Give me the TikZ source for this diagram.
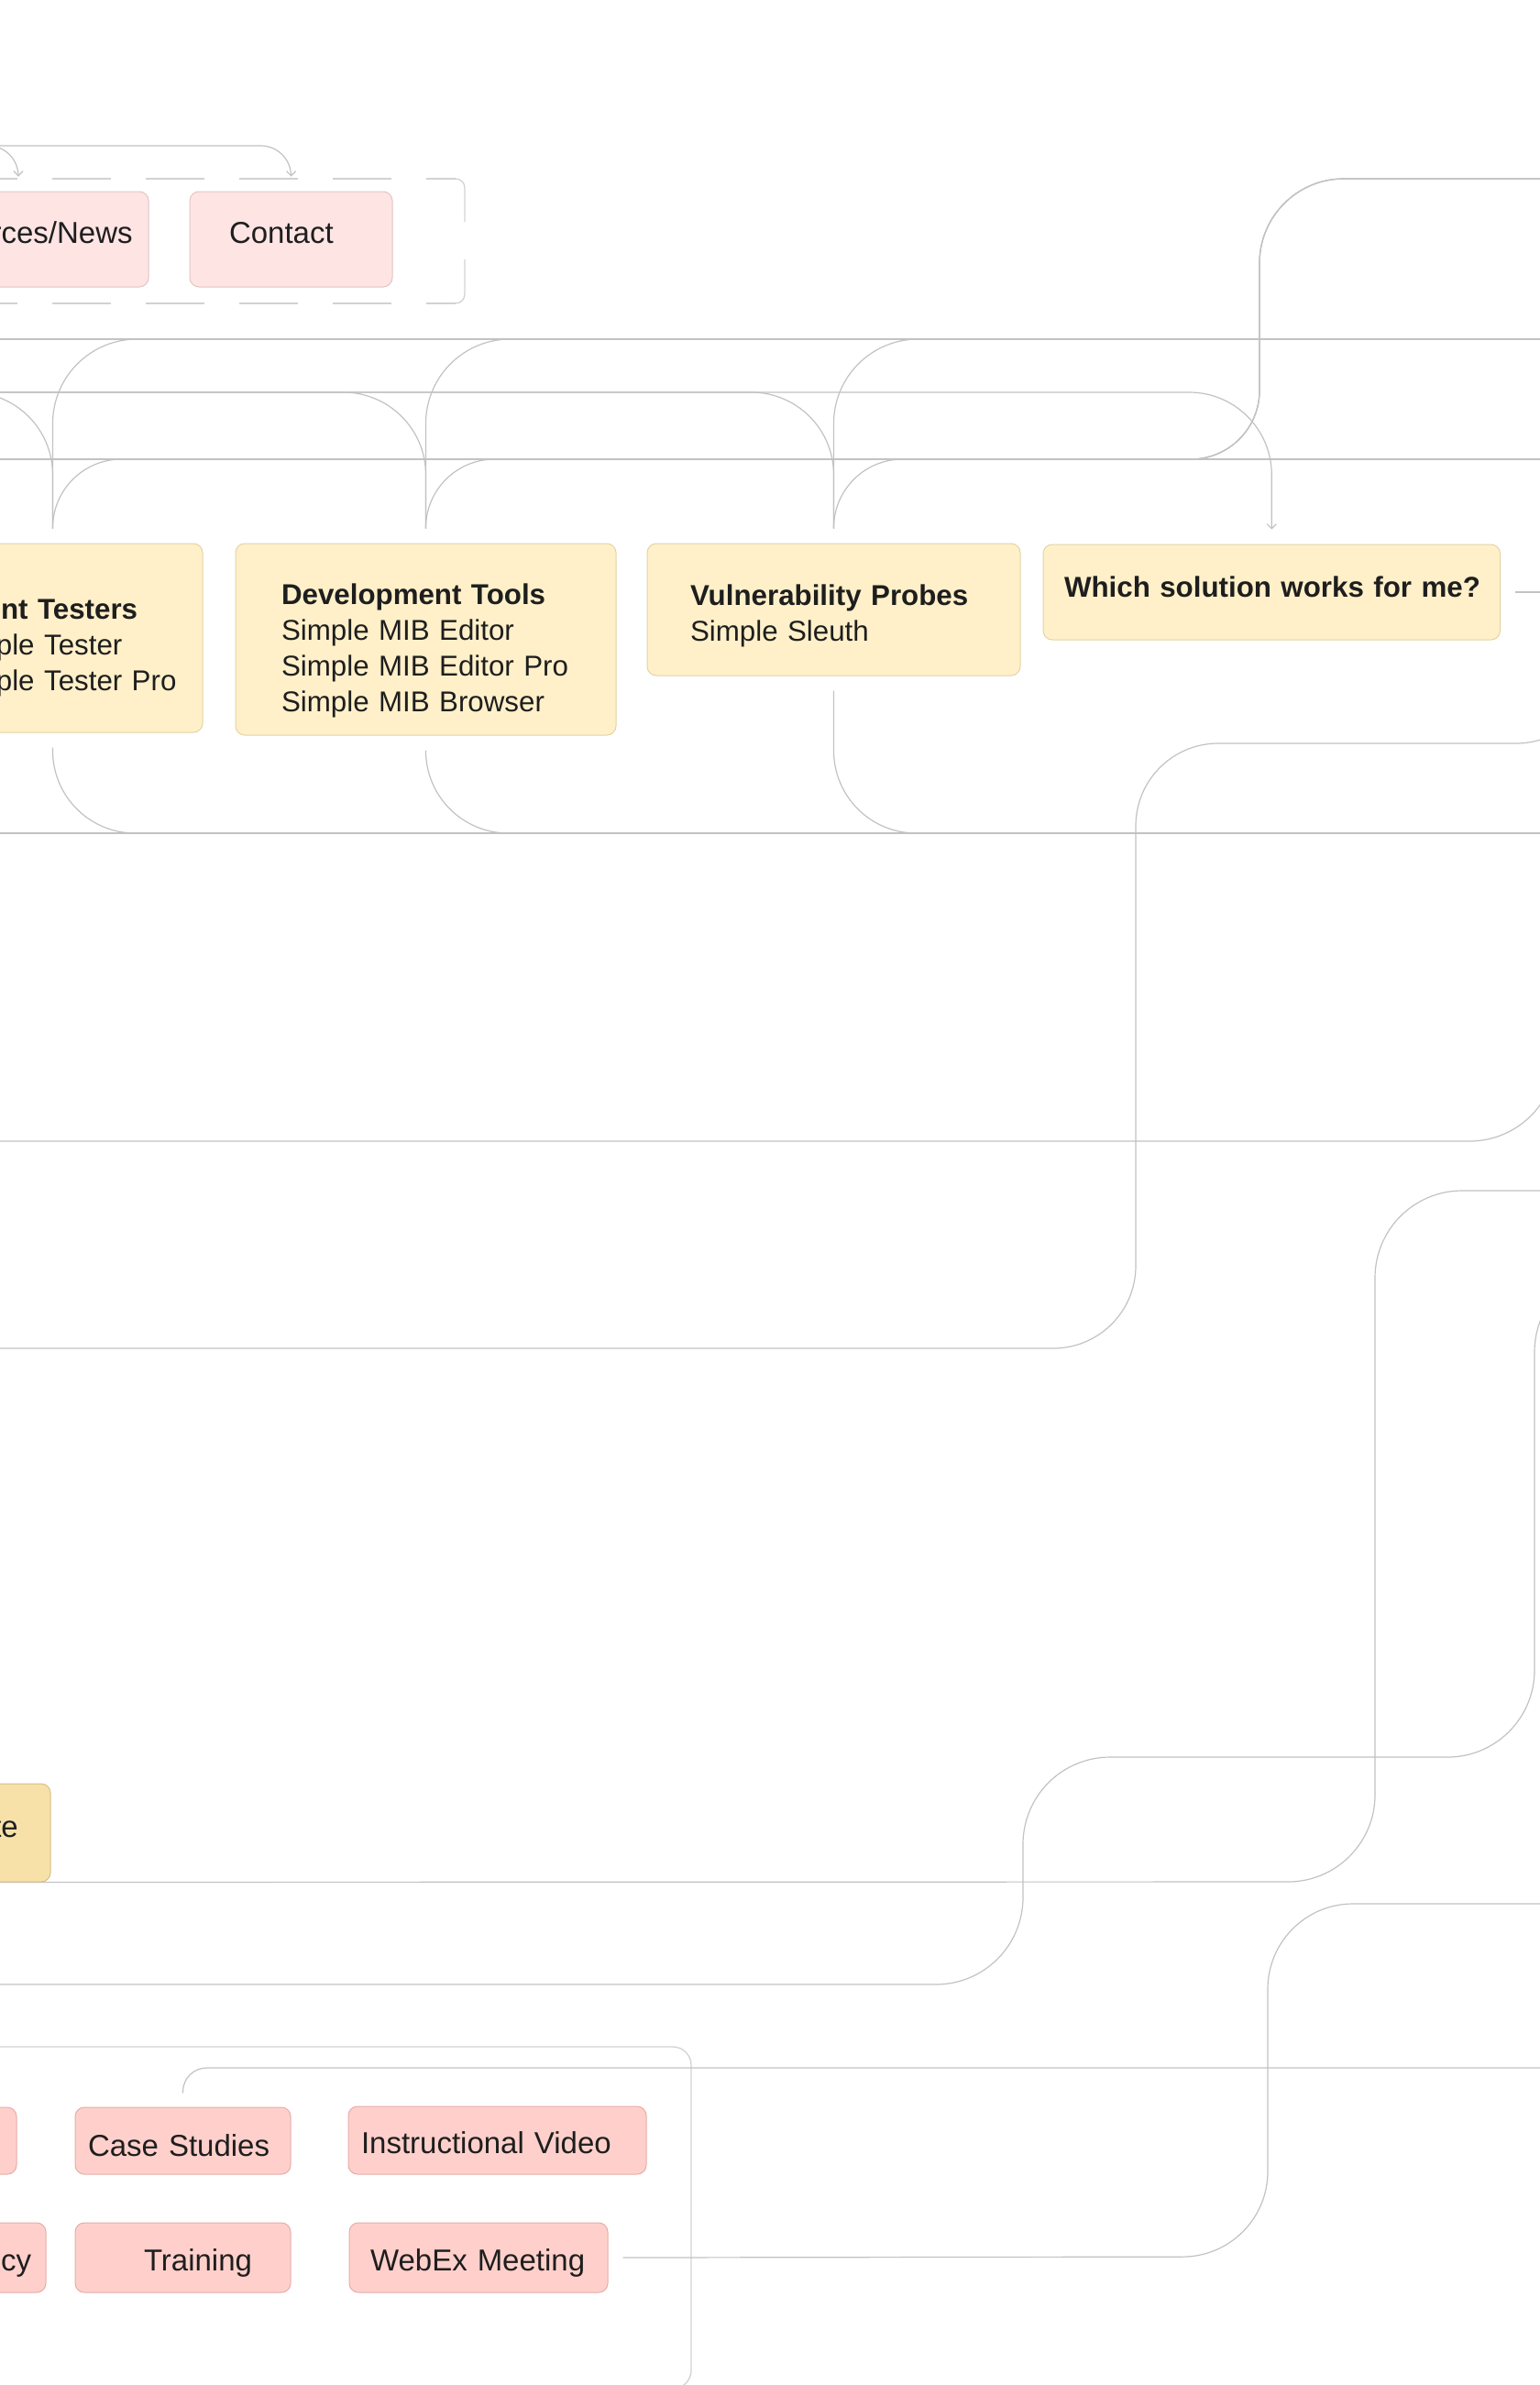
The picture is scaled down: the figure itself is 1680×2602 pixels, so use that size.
\documentclass[tikz,border=0pt]{standalone}
\usepackage{fontspec}
\setmainfont{Liberation Sans}
\usetikzlibrary{arrows.meta}
\pgfdeclarelayer{background}
\pgfsetlayers{background,main}

\definecolor{cream}{HTML}{FFF0C9}
\definecolor{creamline}{HTML}{E3D3A3}
\definecolor{sand}{HTML}{F8E1A9}
\definecolor{sandline}{HTML}{D7BF86}
\definecolor{blush}{HTML}{FFE4E4}
\definecolor{blushline}{HTML}{E2C4C4}
\definecolor{rose}{HTML}{FFD0CB}
\definecolor{roseline}{HTML}{E5ADA8}
\definecolor{wirecol}{HTML}{C2C2C2}
\definecolor{framecol}{HTML}{D2D2D2}
\definecolor{ink}{HTML}{1E1E1E}

\tikzset{
  box/.style={rectangle, rounded corners=10pt, line width=1pt, inner ysep=0pt, text=ink},
  prod/.style={box, fill=cream, draw=creamline, align=left, font=\fontsize{31.3}{39}\selectfont},
  quotebox/.style={box, fill=sand, draw=sandline, align=center, font=\fontsize{33}{40}\selectfont},
  toplink/.style={box, fill=blush, draw=blushline, font=\fontsize{33}{40}\selectfont},
  media/.style={box, fill=rose, draw=roseline, font=\fontsize{33}{40}\selectfont},
  wire/.style={draw=wirecol, line width=1.2pt},
  frame/.style={draw=framecol, line width=1.3pt},
}

\begin{document}
\begin{tikzpicture}[x=1pt, y=-1pt, >={Straight Barb[length=5pt,width=10pt]}]
  \useasboundingbox (0,0) rectangle (1680,2602);

  % header links
  \node[toplink, align=center, text width=264pt, inner xsep=10pt, minimum height=104pt, text height=24pt, text depth=16pt] (news) at (20,261) {Resources/News};
  \node[toplink, align=left, text width=135pt, inner xsep=43pt, minimum height=104pt, text height=24pt, text depth=16pt] (contact) at (317.5,261) {Contact};

  % product groups
  \node[prod, text width=231pt, inner xsep=48pt, minimum height=206pt, text height=24pt, text depth=65pt] (testers) at (57.5,696) {\textbf{Agent Testers}\\Simple Tester\\\mbox{Simple Tester Pro}};
  \node[prod, text width=315pt, inner xsep=50pt, minimum height=209pt, text height=24pt, text depth=101pt] (devtools) at (464.5,697.5) {\textbf{Development Tools}\\Simple MIB Editor\\Simple MIB Editor Pro\\Simple MIB Browser};
  \node[prod, text width=313pt, inner xsep=47pt, minimum height=144pt, text height=24pt, text depth=34pt] (probes) at (909.5,665) {\textbf{Vulnerability Probes}\\Simple Sleuth};
  \node[prod, text width=452.5pt, inner xsep=23pt, minimum height=104pt, text height=24pt, text depth=12.6pt] (which) at (1387.25,646) {\mbox{\textbf{Which solution works for me?}}};

  \node[quotebox, text width=263.5pt, inner xsep=30pt, minimum height=107pt, text height=24pt, text depth=15pt] (quote) at (-106.75,1999.5) {Request a Quote};

  % media links
  \node[media, minimum width=218pt, minimum height=73pt] (papers) at (-91,2335.5) {};
  \node[media, align=left, text width=207pt, inner xsep=14pt, minimum height=73pt, text height=34pt, text depth=0pt] (cases) at (199.5,2335.5) {Case Studies};
  \node[media, align=left, text width=297pt, inner xsep=14pt, minimum height=74pt, text height=28pt, text depth=0pt] (video) at (542.5,2335) {Instructional Video};
  \node[media, align=center, text width=219pt, inner xsep=10pt, minimum height=76pt, text height=29pt, text depth=0pt] (policy) at (-69.5,2463) {Privacy Policy};
  \node[media, align=left, text width=85pt, inner xsep=75pt, minimum height=76pt, text height=29pt, text depth=0pt] (training) at (199.5,2463) {Training};
  \node[media, align=left, text width=236pt, inner xsep=23pt, minimum height=76pt, text height=29pt, text depth=0pt] (webex) at (522,2463) {WebEx Meeting};

  % loose ends outside the frame
  \coordinate (inTop) at (-300,159);
  \coordinate (inA) at (-300,370);
  \coordinate (outA) at (1780,370);
  \coordinate (inB) at (-300,428);
  \coordinate (inC) at (-300,501);
  \coordinate (riser) at (1374,501);
  \coordinate (outC) at (1780,195);
  \coordinate (outC2) at (1780,501);
  \coordinate (inD) at (-300,909);
  \coordinate (outD) at (1780,909);
  \coordinate (outW) at (1780,646);
  \coordinate (inP) at (1744,650);
  \coordinate (kneeP) at (1239,811);
  \coordinate (outP) at (-300,1471);
  \coordinate (inQ) at (-300,1245);
  \coordinate (outQ) at (1698,1100);
  \coordinate (inR) at (1780,1299);
  \coordinate (kneeR) at (1500,2053);
  \coordinate (inS) at (1780,1380);
  \coordinate (kneeS) at (1674,1917);
  \coordinate (kneeS2) at (1116,2165);
  \coordinate (outS) at (-300,2165);
  \coordinate (inV) at (1780,2077);
  \coordinate (kneeV) at (1383,2462);
  \coordinate (outV) at (1780,2256);

  \begin{pgfonlayer}{background}
    % groups
    \draw[frame, dash pattern=on 64pt off 38pt] (-147,195) -- (497,195);
    \draw[frame, dash pattern=on 64pt off 38pt] (-147,331) -- (497,331);
    \draw[frame, rounded corners=10pt] (487,195) -- (507,195) -- (507,242);
    \draw[frame, rounded corners=10pt] (507,283) -- (507,331) -- (487,331);
    \draw[frame, rounded corners=20pt] (-50,2233) rectangle (754,2606);

    % connectors
    \draw[wire, ->, rounded corners=33pt] (inTop) -| ([yshift=16pt]news.north);
    \draw[wire, ->, rounded corners=33pt] (inTop) -| ([yshift=16pt]contact.north);
    \draw[wire] (inA) -- (outA);
    \draw[wire] (inC) -- (outC2);
    \draw[wire] (inD) -- (outD);
    \foreach \boxname in {testers,devtools,probes}{
      \draw[wire, rounded corners=92pt] ([yshift=16pt]\boxname.north) |- (outA);
      \draw[wire, rounded corners=90pt] (inB) -| ([yshift=16pt]\boxname.north);
      \draw[wire, rounded corners=75pt] ([yshift=16pt]\boxname.north) |- (riser) [rounded corners=92pt] |- (outC);
      \draw[wire, rounded corners=90pt] ([yshift=-16pt]\boxname.south) |- (outD);
    }
    \draw[wire, ->, rounded corners=90pt] (inB) -| ([yshift=16pt]which.north);
    \draw[wire] ([xshift=16pt]which.east) -- (outW);
    \draw[wire, rounded corners=90pt] (inP) |- (kneeP) |- (outP);
    \draw[wire, rounded corners=95pt] (inQ) -| (outQ);
    \draw[wire, rounded corners=95pt] (inR) -| (kneeR) -- (quote.south);
    \draw[wire, rounded corners=95pt] (inS) -| (kneeS) -| (kneeS2) -- (outS);
    \draw[wire, rounded corners=93pt] (inV) -| (kneeV) -- ([xshift=16pt]webex.east);
    \draw[wire, rounded corners=26pt] ([yshift=15pt]cases.north) |- (outV);
  \end{pgfonlayer}
\end{tikzpicture}
\end{document}
